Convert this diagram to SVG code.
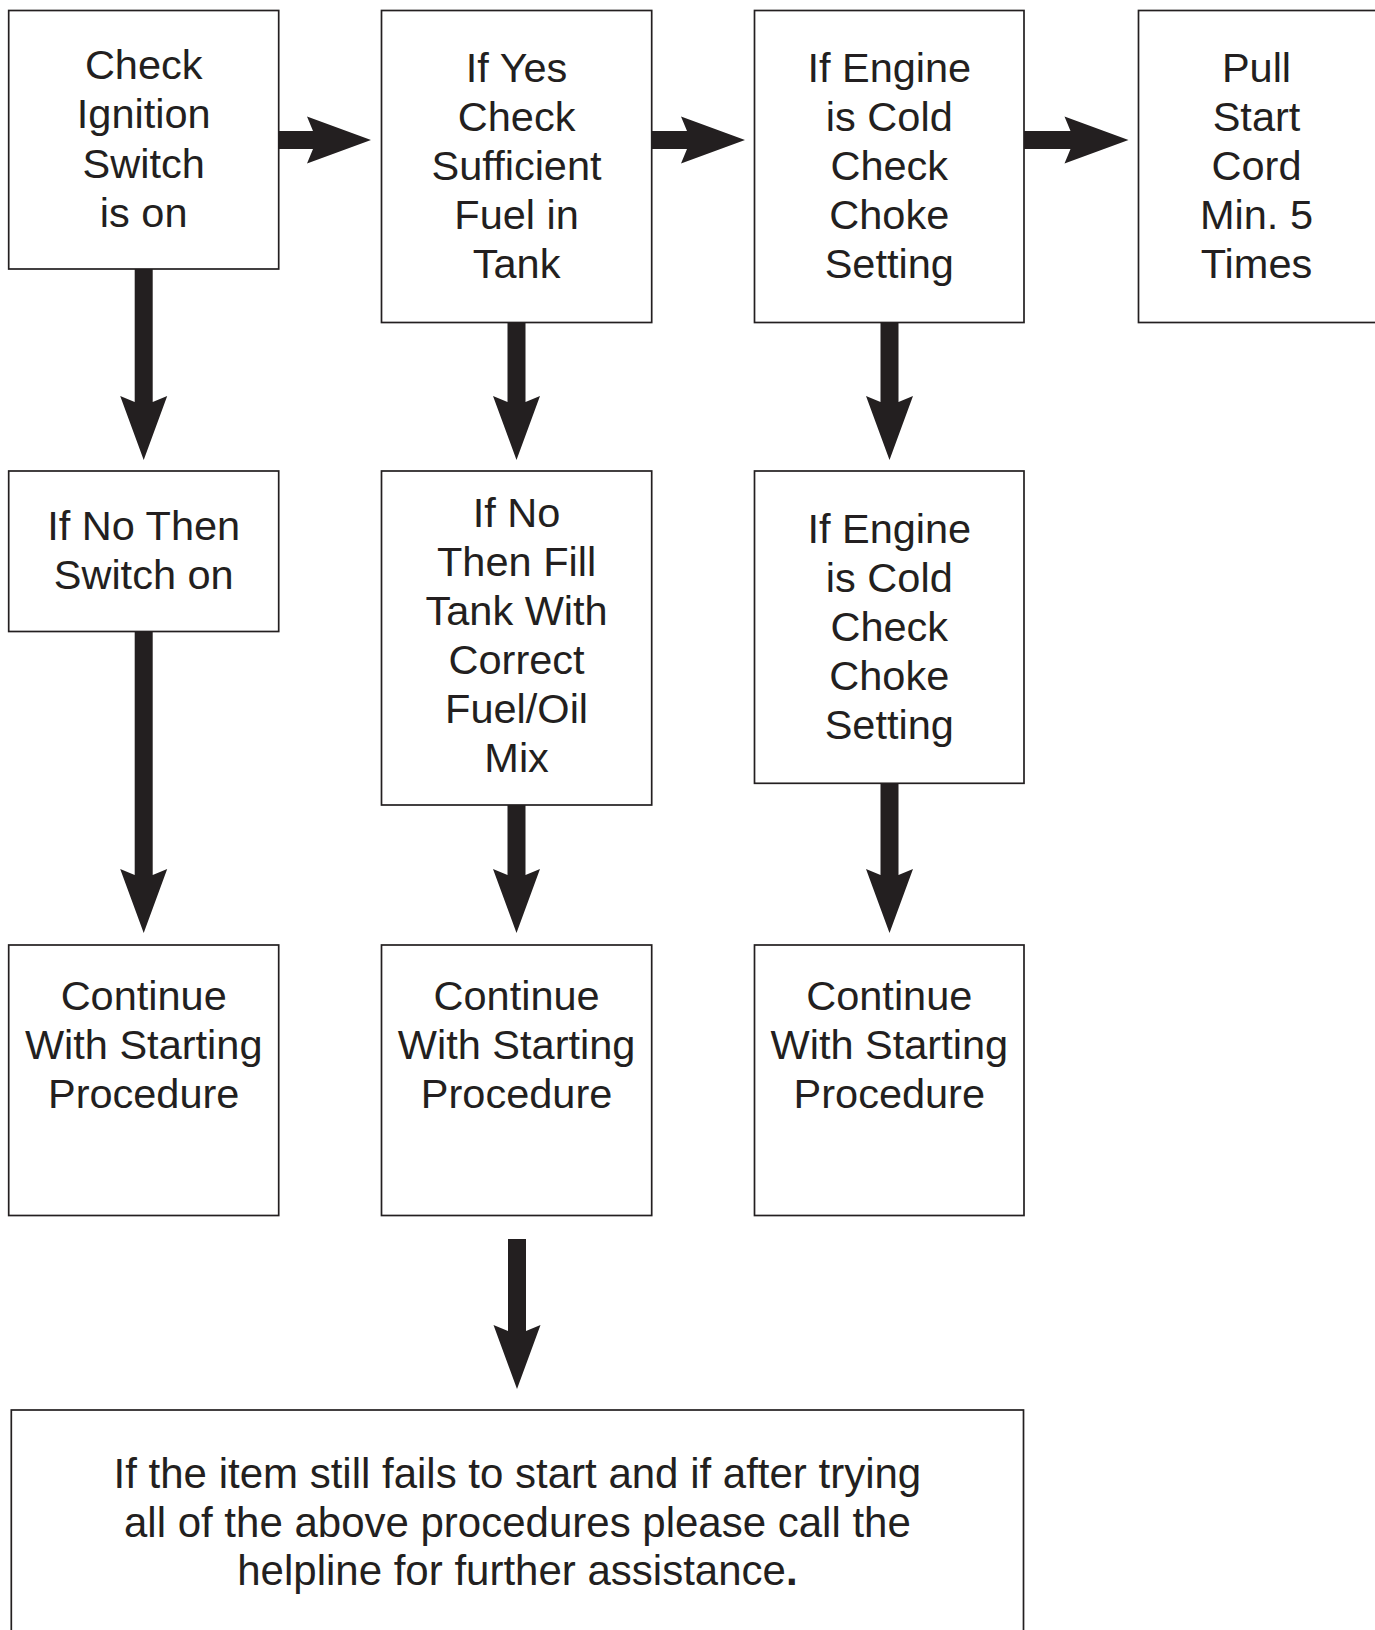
<svg xmlns="http://www.w3.org/2000/svg" width="1375" height="1630" viewBox="0 0 1375 1630">
<style>
.box{fill:#fff;stroke:#231f20;stroke-width:1.7}
.t{font-family:"Liberation Sans",Arial,Helvetica,sans-serif;font-size:41.5px;fill:#231f20;text-anchor:middle}
.tb{font-size:42px}
.arr{fill:#231f20;stroke:none}
</style>
<rect width="1375" height="1630" fill="#fff"/>
<g id="connectors">
<path class="arr" d="M279,131 L313,131 L307,116.5 L371,140 L307,163.5 L313,149 L279,149 Z"/>
<path class="arr" d="M651.7,131 L687,131 L681,116.5 L745,140 L681,163.5 L687,149 L651.7,149 Z"/>
<path class="arr" d="M1024,131 L1070.5,131 L1064.5,116.5 L1128.5,140 L1064.5,163.5 L1070.5,149 L1024,149 Z"/>
<path class="arr" d="M134.7,269 L152.7,269 L152.7,402 L167.2,396 L143.7,460 L120.2,396 L134.7,402 Z"/>
<path class="arr" d="M507.5,322.5 L525.5,322.5 L525.5,402 L540,396 L516.5,460 L493,396 L507.5,402 Z"/>
<path class="arr" d="M880.5,322.5 L898.5,322.5 L898.5,402 L913,396 L889.5,460 L866,396 L880.5,402 Z"/>
<path class="arr" d="M134.7,631.5 L152.7,631.5 L152.7,875 L167.2,869 L143.7,933 L120.2,869 L134.7,875 Z"/>
<path class="arr" d="M507.5,805 L525.5,805 L525.5,875 L540,869 L516.5,933 L493,869 L507.5,875 Z"/>
<path class="arr" d="M880.5,783.3 L898.5,783.3 L898.5,875 L913,869 L889.5,933 L866,869 L880.5,875 Z"/>
<path class="arr" d="M508,1239 L526,1239 L526,1331 L540.5,1325 L517,1389 L493.5,1325 L508,1331 Z"/>
</g>
<g id="n1">
<rect class="box" x="8.7" y="10.5" width="270" height="258.5"/>
<text class="t" x="143.7" y="79">Check</text>
<text class="t" x="143.7" y="128">Ignition</text>
<text class="t" x="143.7" y="177.5">Switch</text>
<text class="t" x="143.7" y="226.5">is on</text>
</g>
<g id="n2">
<rect class="box" x="381.5" y="10.5" width="270.2" height="312"/>
<text class="t" x="516.6" y="81.5">If Yes</text>
<text class="t" x="516.6" y="130.5">Check</text>
<text class="t" x="516.6" y="179.5">Sufficient</text>
<text class="t" x="516.6" y="228.5">Fuel in</text>
<text class="t" x="516.6" y="277.5">Tank</text>
</g>
<g id="n3">
<rect class="box" x="754.5" y="10.5" width="269.5" height="312"/>
<text class="t" x="889.3" y="81.5">If Engine</text>
<text class="t" x="889.3" y="130.5">is Cold</text>
<text class="t" x="889.3" y="179.5">Check</text>
<text class="t" x="889.3" y="228.5">Choke</text>
<text class="t" x="889.3" y="277.5">Setting</text>
</g>
<g id="n4">
<rect class="box" x="1138.5" y="10.5" width="245" height="312"/>
<text class="t" x="1256.5" y="81.5">Pull</text>
<text class="t" x="1256.5" y="130.5">Start</text>
<text class="t" x="1256.5" y="179.5">Cord</text>
<text class="t" x="1256.5" y="228.5">Min. 5</text>
<text class="t" x="1256.5" y="277.5">Times</text>
</g>
<g id="n5">
<rect class="box" x="8.7" y="471" width="270" height="160.5"/>
<text class="t" x="143.7" y="540">If No Then</text>
<text class="t" x="143.7" y="589">Switch on</text>
</g>
<g id="n6">
<rect class="box" x="381.5" y="471" width="270.2" height="334"/>
<text class="t" x="516.6" y="526.7">If No</text>
<text class="t" x="516.6" y="575.8">Then Fill</text>
<text class="t" x="516.6" y="624.9">Tank With</text>
<text class="t" x="516.6" y="674">Correct</text>
<text class="t" x="516.6" y="723">Fuel/Oil</text>
<text class="t" x="516.6" y="772">Mix</text>
</g>
<g id="n7">
<rect class="box" x="754.5" y="471" width="269.5" height="312.3"/>
<text class="t" x="889.3" y="542.7">If Engine</text>
<text class="t" x="889.3" y="591.7">is Cold</text>
<text class="t" x="889.3" y="640.7">Check</text>
<text class="t" x="889.3" y="689.7">Choke</text>
<text class="t" x="889.3" y="738.7">Setting</text>
</g>
<g id="n8">
<rect class="box" x="8.7" y="945" width="270" height="270.5"/>
<text class="t" x="143.7" y="1010">Continue</text>
<text class="t" x="143.7" y="1059">With Starting</text>
<text class="t" x="143.7" y="1108">Procedure</text>
</g>
<g id="n9">
<rect class="box" x="381.5" y="945" width="270.2" height="270.5"/>
<text class="t" x="516.6" y="1010">Continue</text>
<text class="t" x="516.6" y="1059">With Starting</text>
<text class="t" x="516.6" y="1108">Procedure</text>
</g>
<g id="n10">
<rect class="box" x="754.5" y="945" width="269.5" height="270.5"/>
<text class="t" x="889.3" y="1010">Continue</text>
<text class="t" x="889.3" y="1059">With Starting</text>
<text class="t" x="889.3" y="1108">Procedure</text>
</g>
<g id="n11">
<rect class="box" x="11.3" y="1410" width="1012.2" height="240"/>
<text class="t tb" x="517.4" y="1488">If the item still fails to start and if after trying</text>
<text class="t tb" x="517.4" y="1536.5">all of the above procedures please call the</text>
<text class="t tb" x="517.4" y="1585">helpline for further assistance<tspan font-weight="bold">.</tspan></text>
</g>
</svg>
